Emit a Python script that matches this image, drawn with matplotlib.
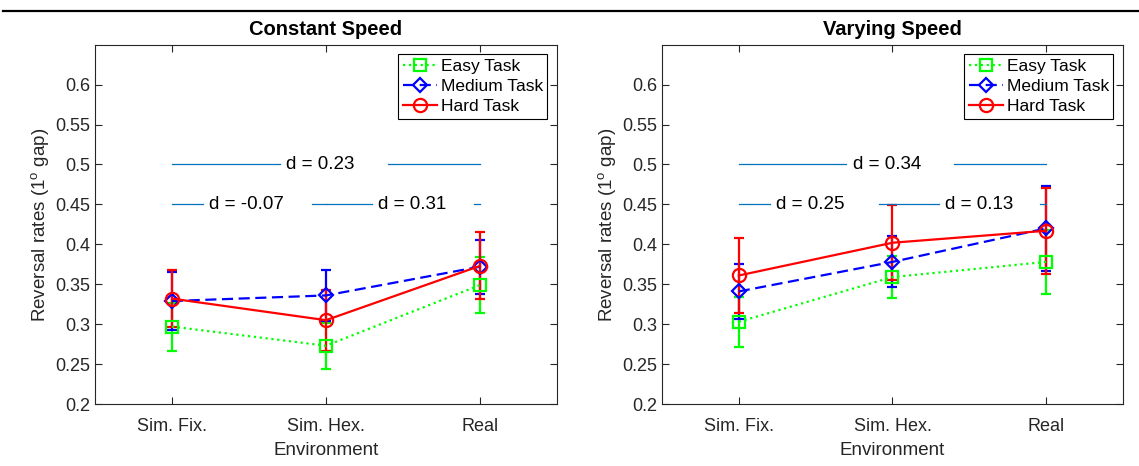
import matplotlib
matplotlib.use("Agg")
import matplotlib.pyplot as plt
from matplotlib.lines import Line2D

plt.rcParams["font.family"] = ["Liberation Sans", "DejaVu Sans"]
plt.rcParams["mathtext.fontset"] = "custom"
plt.rcParams["mathtext.rm"] = "Liberation Sans"
plt.rcParams["mathtext.it"] = "Liberation Sans:italic"

categories = ["Sim. Fix.", "Sim. Hex.", "Real"]
series_names = ["Easy Task", "Medium Task", "Hard Task"]

const_easy = [0.297, 0.273, 0.349]
const_easy_err = [0.030, 0.029, 0.035]
const_medium = [0.329, 0.336, 0.372]
const_medium_err = [0.036, 0.032, 0.034]
const_hard = [0.332, 0.305, 0.373]
const_hard_err = [0.036, 0.038, 0.042]

vary_easy = [0.303, 0.359, 0.378]
vary_easy_err = [0.031, 0.026, 0.040]
vary_medium = [0.341, 0.378, 0.420]
vary_medium_err = [0.035, 0.032, 0.053]
vary_hard = [0.361, 0.402, 0.417]
vary_hard_err = [0.047, 0.047, 0.054]

# effect-size annotations: (from, to, level, label, gap start, gap end)
const_d = [(1, 3, 0.50, "d = 0.23", 1.70, 2.40),
           (1, 2, 0.45, "d = -0.07", 1.20, 1.91),
           (2, 3, 0.45, "d = 0.31", 2.30, 2.96)]
vary_d = [(1, 3, 0.50, "d = 0.34", 1.70, 2.40),
          (1, 2, 0.45, "d = 0.25", 1.20, 1.91),
          (2, 3, 0.45, "d = 0.13", 2.30, 2.96)]

STYLES = [dict(color="#00ff00", ls=":", marker="s", ms=8.0),
          dict(color="#0000ff", ls=(0, (5, 2.5)), marker="D", ms=7.5),
          dict(color="#ff0000", ls="-", marker="o", ms=9.5)]
AX_COL = "#262626"
D_COL = "#0072BD"


def panel(ax, title, series, errs, annots):
    x = list(range(1, len(categories) + 1))
    handles = []
    for name, y, e, st in zip(series_names, series, errs, STYLES):
        c = ax.errorbar(x, y, yerr=e, color=st["color"], ls=st["ls"], lw=1.6,
                        marker=st["marker"], ms=st["ms"], mfc="none", mew=1.6,
                        elinewidth=1.6, capsize=3.5, capthick=1.6, label=name)
        handles.append(c[0])
    for x1, x2, lev, lab, g0, g1 in annots:
        ax.plot([x1, g0], [lev, lev], color=D_COL, lw=0.9)
        ax.plot([g1, x2], [lev, lev], color=D_COL, lw=0.9)
        ax.text(g0 + 0.04, lev, lab, ha="left", va="center", fontsize=13.5,
                color="black")
    ax.set_xlim(0.5, 3.5)
    ax.set_ylim(0.2, 0.65)
    ax.set_xticks(x)
    ax.set_xticklabels(categories)
    ax.set_yticks([0.2 + 0.05 * i for i in range(9)])
    ax.set_yticklabels(["%g" % round(0.2 + 0.05 * i, 2) for i in range(9)])
    ax.tick_params(direction="in", top=True, right=True, length=5,
                   labelsize=13, colors=AX_COL, width=0.8)
    ax.tick_params(axis="x", pad=10)
    for s in ax.spines.values():
        s.set_color(AX_COL)
        s.set_linewidth(0.8)
    ax.set_xlabel("Environment", fontsize=13.5, color=AX_COL, labelpad=5)
    ax.set_ylabel(r"Reversal rates (1$^{\mathrm{o}}$ gap)", fontsize=13.5,
                  color=AX_COL, labelpad=3)
    ax.set_title(title, fontsize=14.5, fontweight="bold", pad=7)
    leg = ax.legend(handles=handles, labels=series_names, loc="upper right",
                    fontsize=12.5, fancybox=False, framealpha=1, edgecolor="black",
                    borderaxespad=0.55, borderpad=0.25, labelspacing=0.3,
                    handlelength=2.0, handletextpad=0.2)
    leg.get_frame().set_linewidth(0.8)


fig = plt.figure(figsize=(11.39, 4.66), dpi=100)
ax1 = fig.add_axes([0.0834, 0.133, 0.4056, 0.771])
ax2 = fig.add_axes([0.5812, 0.133, 0.4047, 0.771])

panel(ax1, "Constant Speed",
      [const_easy, const_medium, const_hard],
      [const_easy_err, const_medium_err, const_hard_err], const_d)
panel(ax2, "Varying Speed",
      [vary_easy, vary_medium, vary_hard],
      [vary_easy_err, vary_medium_err, vary_hard_err], vary_d)

# rule across the top of the page
fig.add_artist(Line2D([0.003, 1.0], [1 - 11 / 466, 1 - 11 / 466],
                      color="black", lw=1.6, transform=fig.transFigure))

fig.savefig("out.png", dpi=100)
